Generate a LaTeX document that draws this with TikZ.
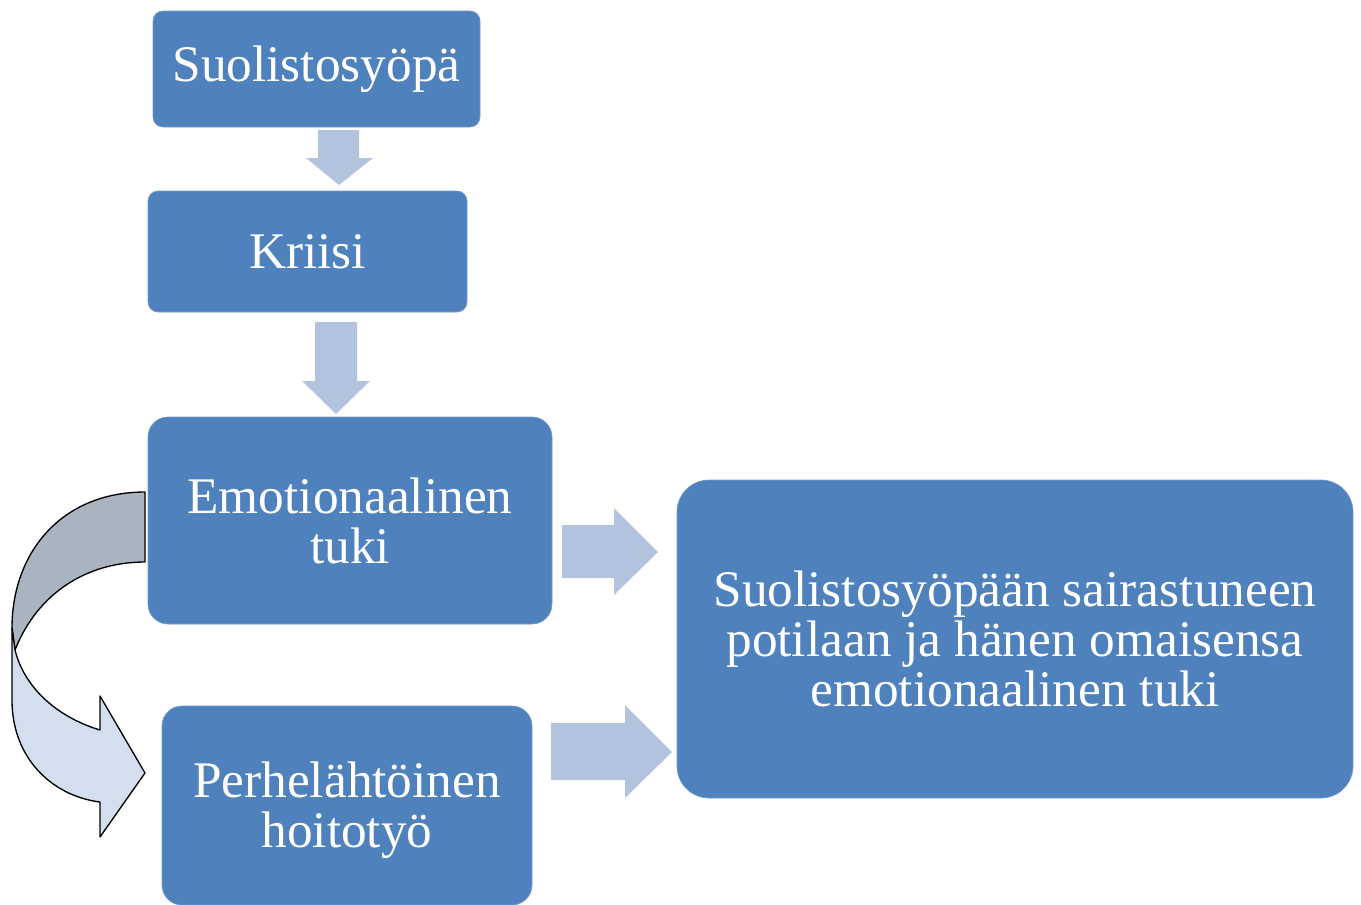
\documentclass[tikz,border=0pt]{standalone}
\usepackage{fontspec}
\setmainfont{Liberation Serif}
\definecolor{boxblue}{RGB}{79,129,189}
\definecolor{arrowblue}{RGB}{180,195,221}
\definecolor{backgray}{RGB}{169,180,192}
\definecolor{frontblue}{RGB}{211,223,239}
\tikzset{
  blk/.style={draw=boxblue!80!white, line width=0.5pt, fill=boxblue, text=white, align=center,
    font=\fontsize{38.5}{37.5}\selectfont, inner sep=0pt},
  blockarrow/.style={fill=arrowblue, draw=none},
  ribbon/.style={draw=black, line width=1pt, line join=round}
}
\begin{document}
\begin{tikzpicture}[x=0.75pt,y=-0.75pt]
\useasboundingbox (0,0) rectangle (1361,904);
% boxes
\node[blk, rounded corners=7.5pt, minimum width=245.25pt, minimum height=87pt] (suo) at (316.5,69) {Suolistosyöpä};
\node[blk, rounded corners=7.5pt, minimum width=239.25pt, minimum height=90.75pt] (kri) at (307.5,251.5) {Kriisi};
\node[blk, rounded corners=15pt, minimum width=303pt, minimum height=155.25pt] (emo) at (350,520.5) {Emotionaalinen\\tuki};
\node[blk, rounded corners=15pt, minimum width=277.5pt, minimum height=149.25pt] (per) at (347,805.5) {};
\node[text=white, align=center, font=\fontsize{38.5}{37.5}\selectfont, inner sep=0pt] (pertext) at (347,810) {Perhelähtöinen\\hoitotyö};
\node[blk, rounded corners=24pt, minimum width=507pt, minimum height=238.5pt] (res) at (1015,639) {Suolistosyöpään sairastuneen\\potilaan ja hänen omaisensa\\emotionaalinen tuki};
% block arrows
\fill[blockarrow] (318,130) -- (359,130) -- (359,158) -- (373,158) -- (339,185) -- (306,158) -- (318,158) -- cycle;
\fill[blockarrow] (315,322) -- (357,322) -- (357,381) -- (370,381) -- (336,414) -- (302,381) -- (315,381) -- cycle;
\fill[blockarrow] (562,525) -- (614,525) -- (614,508) -- (658,552) -- (614,595) -- (614,578) -- (562,578) -- cycle;
\fill[blockarrow] (551,723) -- (625,723) -- (625,705) -- (672,752) -- (625,798) -- (625,780) -- (551,780) -- cycle;
% curved arrow
\draw[ribbon, fill=backgray] (145,492) .. controls (62,492) and (12,552) .. (12,628) -- (15,650)
  .. controls (38,592) and (88,562) .. (145,562) -- cycle;
\draw[ribbon, fill=frontblue] (12,628) -- (12,700) .. controls (12,758) and (52,796) .. (100,802)
  -- (100,837) -- (145,773) -- (100,696) -- (100,730) .. controls (60,718) and (25,690) .. (15,650) -- cycle;
\end{tikzpicture}
\end{document}
